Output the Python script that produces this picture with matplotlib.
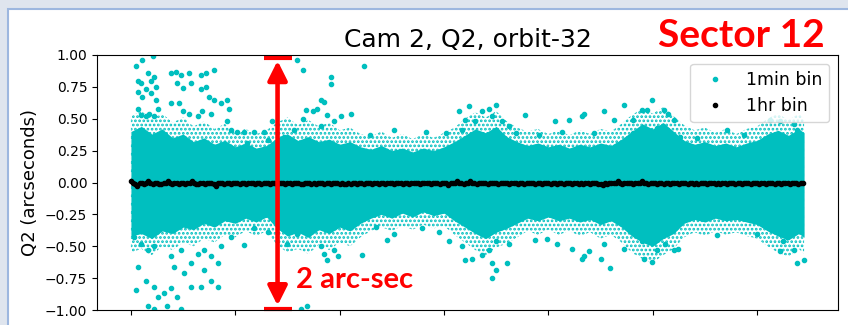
import numpy as np
import matplotlib
matplotlib.use('Agg')
import matplotlib.pyplot as plt
from matplotlib.patches import Rectangle

plt.rcParams['hatch.linewidth'] = 1.3

# time axis in days since start of orbit, envelope sampled every 0.2 day (last one at 12.9)
core_t = list(np.round(np.arange(0, 12.81, 0.2), 1)) + [12.9]

# solid core of the 1-min cloud
core_upper = [0.40, 0.44, 0.38, 0.42, 0.35, 0.38, 0.32, 0.35, 0.30, 0.33,
              0.28, 0.31, 0.27, 0.29, 0.35, 0.38, 0.33, 0.36, 0.32, 0.34,
              0.30, 0.32, 0.28, 0.26, 0.29, 0.25, 0.27, 0.24, 0.27, 0.25,
              0.28, 0.32, 0.37, 0.42, 0.39, 0.44, 0.36, 0.32, 0.29, 0.31,
              0.28, 0.30, 0.27, 0.30, 0.28, 0.31, 0.29, 0.34, 0.40, 0.46,
              0.42, 0.47, 0.40, 0.33, 0.30, 0.32, 0.29, 0.31, 0.28, 0.31,
              0.33, 0.38, 0.41, 0.37, 0.42, 0.39]
core_lower = [-0.42, -0.40, -0.44, -0.38, -0.40, -0.35, -0.37, -0.32, -0.35, -0.30,
              -0.32, -0.28, -0.31, -0.27, -0.36, -0.42, -0.39, -0.43, -0.37, -0.40,
              -0.35, -0.38, -0.32, -0.28, -0.25, -0.28, -0.24, -0.27, -0.23, -0.26,
              -0.24, -0.30, -0.35, -0.40, -0.44, -0.39, -0.36, -0.32, -0.28, -0.30,
              -0.27, -0.30, -0.28, -0.31, -0.29, -0.33, -0.30, -0.35, -0.42, -0.47,
              -0.50, -0.44, -0.40, -0.32, -0.29, -0.31, -0.28, -0.30, -0.29, -0.31,
              -0.33, -0.38, -0.42, -0.45, -0.40, -0.43]

# looser, speckled fringe around the core
fringe_upper = [0.52, 0.56, 0.50, 0.54, 0.47, 0.51, 0.44, 0.48, 0.42, 0.46,
                0.39, 0.42, 0.38, 0.41, 0.47, 0.51, 0.45, 0.49, 0.44, 0.47,
                0.41, 0.43, 0.38, 0.36, 0.40, 0.35, 0.38, 0.34, 0.38, 0.35,
                0.39, 0.43, 0.50, 0.55, 0.51, 0.56, 0.48, 0.43, 0.40, 0.42,
                0.38, 0.41, 0.37, 0.41, 0.38, 0.42, 0.40, 0.46, 0.53, 0.58,
                0.54, 0.59, 0.52, 0.45, 0.41, 0.43, 0.39, 0.42, 0.38, 0.42,
                0.44, 0.50, 0.54, 0.49, 0.54, 0.50]
fringe_lower = [-0.55, -0.52, -0.57, -0.50, -0.53, -0.47, -0.50, -0.44, -0.47, -0.41,
                -0.43, -0.38, -0.42, -0.38, -0.49, -0.55, -0.52, -0.56, -0.49, -0.53,
                -0.47, -0.50, -0.43, -0.38, -0.35, -0.38, -0.34, -0.37, -0.33, -0.36,
                -0.34, -0.41, -0.47, -0.53, -0.57, -0.51, -0.48, -0.43, -0.38, -0.41,
                -0.37, -0.41, -0.38, -0.42, -0.39, -0.44, -0.41, -0.47, -0.55, -0.60,
                -0.63, -0.57, -0.52, -0.43, -0.39, -0.42, -0.38, -0.41, -0.39, -0.42,
                -0.44, -0.50, -0.55, -0.58, -0.52, -0.56]

# scattered 1-min points outside the dense cloud (day, arcsec)
out_t = [0.10, 0.22, 0.42, 0.13, 0.19, 0.32, 0.38, 0.45, 0.13, 0.22, 0.29, 0.38, 0.48, 0.48,
         0.51, 0.13, 0.19, 0.29, 0.35, 0.45, 0.77, 0.86, 0.96, 1.12, 1.34, 1.44, 1.60, 0.89,
         0.99, 1.15, 1.34, 1.44, 1.50, 1.60, 1.72, 1.85, 1.88, 0.77, 0.93, 0.99, 1.12, 1.28,
         1.37, 1.53, 1.85, 1.91, 2.04, 2.17, 2.36, 2.55, 2.71, 3.19, 3.29, 3.83, 3.84, 3.35,
         3.48, 3.64, 3.70, 3.57, 3.76, 3.89, 4.02, 4.21, 3.29, 3.64, 3.13, 2.94, 2.62, 2.23,
         0.06, 0.19, 0.32, 0.45, 0.13, 0.29, 0.10, 0.45, 0.51, 0.32, 0.64, 0.77, 0.89, 0.96,
         0.83, 1.02, 1.15, 1.28, 1.40, 1.53, 1.66, 1.40, 1.53, 1.66, 1.34, 1.15, 0.77, 0.96,
         1.72, 1.91, 2.17, 2.36, 2.62, 3.00, 3.19, 3.64, 3.70, 3.76, 3.89, 3.96, 3.38, 3.25,
         0.45, 0.70,
         4.47, 6.28, 6.48, 6.41, 6.60, 6.73, 6.86, 6.99, 6.92, 7.11, 7.24, 7.37, 7.56, 8.13,
         8.39, 8.64, 5.04, 4.59, 5.65, 6.03, 6.35, 7.82, 8.26,
         4.43, 4.91, 5.04, 6.09, 6.41, 6.54, 6.73, 6.86, 6.92, 6.99, 6.92, 7.21, 6.99, 7.24,
         6.35, 7.75, 7.97, 8.17, 8.45, 8.64, 5.90, 5.58, 4.69,
         9.98, 9.79, 9.89, 9.44, 9.06, 8.68, 9.25, 9.63, 10.21, 10.30, 10.40, 10.08, 10.53,
         11.42, 11.74, 12.44, 12.70, 12.76, 12.25, 8.87, 9.63, 10.85,
         8.68, 8.77, 9.06, 9.19, 9.44, 9.79, 9.83, 9.98, 10.08, 10.24, 10.40, 10.49, 10.14,
         11.23, 12.44, 12.50, 12.57, 12.70, 12.76, 12.89, 11.99, 9.00]
out_y = [0.91, 0.96, 0.99, 0.80, 0.78, 0.86, 0.80, 0.83, 0.71, 0.67, 0.73, 0.70, 0.75, 0.65,
         0.58, 0.58, 0.53, 0.52, 0.54, 0.52, 0.86, 0.87, 0.84, 0.86, 0.84, 0.86, 0.88, 0.78,
         0.74, 0.78, 0.73, 0.75, 0.67, 0.65, 0.62, 0.65, 0.58, 0.62, 0.62, 0.56, 0.54, 0.52,
         0.56, 0.54, 0.48, 0.41, 0.40, 0.40, 0.40, 0.40, 0.48, 0.96, 0.88, 0.83, 0.77, 0.57,
         0.56, 0.65, 0.63, 0.58, 0.53, 0.48, 0.52, 0.54, 0.50, 0.44, 0.41, 0.36, 0.33, 0.31,
         -0.43, -0.48, -0.53, -0.50, -0.66, -0.77, -0.84, -0.82, -0.90, -0.97, -0.87, -0.83,
         -0.90, -0.99, -0.66, -0.71, -0.63, -0.56, -0.53, -0.58, -0.63, -0.69, -0.77, -0.82,
         -0.82, -0.82, -0.58, -0.53, -0.50, -0.43, -0.49, -0.36, -0.39, -0.48, -0.40, -0.50,
         -0.56, -0.61, -0.53, -0.58, -0.97, -0.99, -0.99, -0.97,
         0.91, 0.56, 0.60, 0.49, 0.48, 0.56, 0.58, 0.61, 0.52, 0.48, 0.44, 0.39, 0.53, 0.48,
         0.49, 0.52, 0.41, 0.37, 0.40, 0.39, 0.41, 0.37, 0.40,
         -0.57, -0.45, -0.40, -0.46, -0.61, -0.60, -0.57, -0.53, -0.63, -0.69, -0.75, -0.63,
         -0.46, -0.48, -0.50, -0.45, -0.44, -0.48, -0.52, -0.60, -0.39, -0.36, -0.35,
         0.65, 0.57, 0.57, 0.61, 0.56, 0.54, 0.49, 0.49, 0.57, 0.54, 0.49, 0.43, 0.36,
         0.41, 0.37, 0.48, 0.46, 0.41, 0.49, 0.39, 0.39, 0.35,
         -0.58, -0.54, -0.48, -0.67, -0.52, -0.46, -0.60, -0.62, -0.53, -0.48, -0.53, -0.52,
         -0.41, -0.41, -0.54, -0.46, -0.43, -0.53, -0.63, -0.61, -0.40, -0.60]

# 1-hr binned values, hundredths of an arcsec, one row per day
hr_cents = [
    1, 0, -1, -3, 0, 0, -1, 0, 1, 0, -1, 0, 0, -1, -1, 0, 0, 1, 0, -1, 0, 0, -1, 0,
    0, -1, 0, 0, 1, 0, -1, -1, 0, 0, -1, 0, 0, 0, -1, -3, 0, 0, 0, -1, 0, 0, -1, 0,
    0, 0, -1, 0, 0, -1, 0, 0, 0, -1, 0, 0, -1, 0, 0, 0, -1, 0, 0, -1, 0, 0, 0, -1,
    0, 0, -1, 0, 0, 0, -1, -1, 0, 0, 0, -1, 0, -1, 0, 0, 0, -1, 0, 0, -1, 0, 0, 0,
    -1, 0, -1, -1, 0, -1, 0, 0, -1, 0, 0, -1, 0, 0, 0, -1, 0, 0, -1, 0, 0, -1, 0, 0,
    0, -1, 0, 0, 0, -1, 0, 0, -1, 0, 0, 0, 0, -1, 0, 0, 0, 0, -1, 0, 0, 0, -1, 0,
    0, 0, -2, 0, 0, 0, 1, 0, 0, -1, 0, 0, 1, 0, 0, -1, 0, 0, 0, 0, -1, 0, 0, 0,
    0, -1, 0, 0, 0, 0, -1, 0, 0, 0, -1, 0, 0, -1, 0, 0, 0, 0, -1, 0, 0, -1, 0, 0,
    0, -1, 0, 0, -1, 0, 0, -1, 0, 0, 0, -1, 0, 0, -1, 0, -1, 0, 0, -1, 0, 0, 0, -1,
    -1, -2, 0, -1, 0, 0, 0, 0, 1, 0, -1, 0, 0, 0, 0, -1, 0, 0, 0, 1, 0, 0, -1, 0,
    0, 0, -1, 0, 0, -1, 0, 0, -1, 0, 0, 0, -1, 0, 0, 0, -1, 0, 0, -1, 0, -1, 0, 0,
    0, -1, 0, 0, 0, -1, 0, -1, 0, 0, -1, 0, 0, 0, -1, 0, 0, -1, 0, 0, 0, -1, 0, 0,
    0, -1, 0, 0, -1, 0, 0, 0, -1, 0, 0, -1, 0, 0, 0, -1, 0, 0, 0, -1, 0, 0,
]
hr_y = np.array(hr_cents) / 100.0
hr_t = np.arange(len(hr_y)) / 24.0

fig = plt.figure(figsize=(8.48, 3.25), dpi=100, facecolor='#dfe5ee')
# white slide panel with its blue border
fig.add_artist(Rectangle((8 / 848, -0.1), 1.2, 316 / 325 + 0.1, transform=fig.transFigure,
                         facecolor='white', edgecolor='#9db7df', lw=1.5, zorder=-1))

ax = fig.add_axes([97 / 848, 15 / 325, 741 / 848, 255 / 325])
ax.fill_between(core_t, fringe_lower, fringe_upper, facecolor='none', edgecolor='c',
                hatch='....', lw=0)
ax.fill_between(core_t, core_lower, core_upper, color='c', lw=0)
ax.plot(out_t, out_y, '.', color='c', label='1min bin')
ax.plot(hr_t, hr_y, '.', color='k', label='1hr bin')

ax.set_xlim(-0.65, 13.55)
ax.set_ylim(-1, 1)
ax.set_xticks(np.arange(0, 13, 2))
ax.tick_params(labelsize=10, labelbottom=False)
ax.set_title('Cam 2, Q2, orbit-32', fontsize=18)
ax.set_ylabel('Q2 (arcseconds)', fontsize=13)
ax.legend(loc='upper right', fontsize=12.5)

# red annotations from the slide
red = '#ff0000'
ax.annotate('', xy=(2.81, -0.965), xytext=(2.81, 0.955),
            arrowprops=dict(arrowstyle='<|-|>', color=red, lw=3.3, mutation_scale=29,
                            shrinkA=0, shrinkB=0), annotation_clip=False)
ax.plot([2.55, 3.08], [0.98, 0.98], color=red, lw=3, solid_capstyle='butt', clip_on=False)
ax.plot([2.55, 3.08], [-0.995, -0.995], color=red, lw=3, solid_capstyle='butt', clip_on=False)
ax.text(3.16, -0.827, '2 arc-sec', color=red, fontsize=21, fontweight='bold',
        family='Lato', ha='left', va='baseline')
fig.text(741 / 848, 278 / 325, 'Sector 12', color=red, fontsize=28, fontweight='bold',
         family='Lato', ha='center', va='baseline')

fig.savefig('out.png', dpi=100, facecolor=fig.get_facecolor())
